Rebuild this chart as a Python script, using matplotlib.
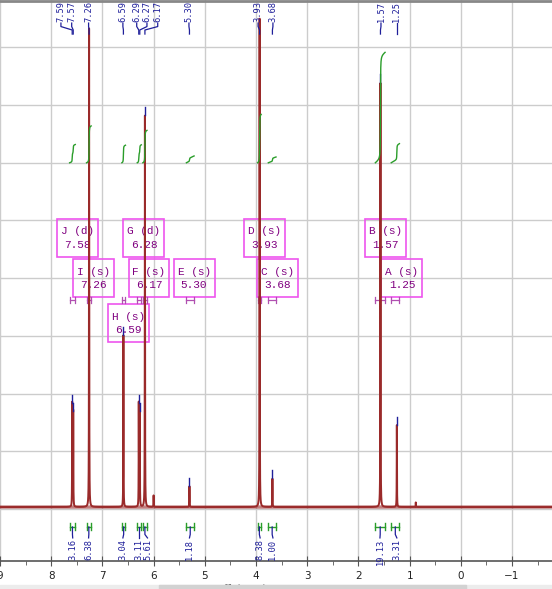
import numpy as np
import matplotlib
matplotlib.use("Agg")
import matplotlib.pyplot as plt
from matplotlib.patches import Rectangle
from matplotlib.lines import Line2D

# peaks (ppm, height in grid units)
peak_ppm = [7.59, 7.57, 7.26, 6.59, 6.29, 6.27, 6.17, 6.00, 5.30, 3.93, 3.68, 1.57, 1.25, 0.88]
peak_height = [1.80, 1.66, 8.30, 2.98, 1.80, 1.66, 6.78, 0.20, 0.36, 8.47, 0.49, 7.35, 1.42, 0.08]

# picked peak labels along the top
label_ppm = [7.59, 7.57, 7.26, 6.59, 6.29, 6.27, 6.17, 5.30, 3.93, 3.68, 1.57, 1.25]
label_height = [1.80, 1.66, 8.30, 2.98, 1.80, 1.66, 6.78, 0.36, 8.47, 0.49, 7.35, 1.42]

# multiplets
mult_letter = ['J', 'I', 'H', 'G', 'F', 'E', 'D', 'C', 'B', 'A']
mult_type = ['d', 's', 's', 'd', 's', 's', 's', 's', 's', 's']
mult_shift = [7.58, 7.26, 6.59, 6.28, 6.17, 5.30, 3.93, 3.68, 1.57, 1.25]
mult_start = [7.64, 7.31, 6.62, 6.32, 6.21, 5.36, 3.97, 3.76, 1.67, 1.36]
mult_end = [7.53, 7.22, 6.55, 6.24, 6.13, 5.21, 3.90, 3.61, 1.48, 1.20]
integral = [3.16, 6.38, 3.04, 3.11, 5.61, 1.18, 8.38, 1.00, 19.13, 3.31]

# layout (ppm / grid units)
XMAX, XMIN = 9.0, -1.78
YMIN, YMAX = -0.90, 8.82
label_x = [7.81, 7.60, 7.27, 6.60, 6.33, 6.13, 5.92, 5.31, 3.96, 3.67, 1.56, 1.25]
box_x = [7.49, 7.18, 6.49, 6.19, 6.09, 5.21, 3.84, 3.58, 1.48, 1.15]
box_row = [0, 1, 2, 0, 1, 1, 0, 1, 0, 1]
row_y = [4.70, 4.00, 3.22]
int_label_x = [7.58, 7.27, 6.60, 6.28, 6.12, 5.30, 3.92, 3.67, 1.58, 1.25]

RED = '#9a2a2a'
NAVY = '#1f1f9a'
GREEN = '#2a9d2a'
MAG = '#ee55ee'
PURP = '#800080'

ppm = np.linspace(XMAX, XMIN, 60000)
hw = 0.0025
spec = np.zeros_like(ppm)
for p, h in zip(peak_ppm, peak_height):
    spec += h * hw**2 / ((ppm - p)**2 + hw**2)

fig = plt.figure(figsize=(5.52, 5.89), dpi=100)
ax = fig.add_axes([0, 28 / 589, 1, 561 / 589])
ax.set_xlim(XMAX, XMIN)
ax.set_ylim(YMIN, YMAX)

for v in range(-1, 10):
    ax.axvline(v, color='#cccccc', lw=1, zorder=0)
for v in range(0, 9):
    ax.axhline(v, color='#cccccc', lw=1, zorder=0)

ax.plot(ppm, spec + 0.035, color=RED, lw=1.4, zorder=3)
ax.plot(ppm, np.full_like(ppm, 0.035), color=RED, lw=2.4, alpha=0.6, zorder=2)

# peak markers and top labels
for lp, lh, lx in zip(label_ppm, label_height, label_x):
    if lh < 8:
        ax.plot([lp, lp], [lh + 0.04, lh + 0.18], color=NAVY, lw=1, zorder=4)
    ax.plot([lx, lx, lp, lp], [8.42, 8.36, 8.30, 8.23], color=NAVY, lw=0.9, zorder=4)
    ax.text(lx, 8.80, f"{lp:.2f}", rotation=90, ha='center', va='top',
            family='DejaVu Sans Mono', fontsize=6.3, color=NAVY, zorder=5)

# multiplet boxes and ranges
for i in range(len(mult_letter)):
    cx, cy = box_x[i], row_y[box_row[i]]
    ax.add_patch(Rectangle((cx - 0.40, cy - 0.33), 0.80, 0.66, fill=False,
                           ec=MAG, lw=1.2, zorder=1))
    ax.text(cx, cy + 0.11, f"{mult_letter[i]} ({mult_type[i]})", ha='center', va='center',
            family='Liberation Mono', fontsize=8, color=PURP, zorder=1)
    ax.text(cx, cy - 0.12, f"{mult_shift[i]:.2f}", ha='center', va='center',
            family='Liberation Mono', fontsize=8, color=PURP, zorder=1)
    a, b = mult_start[i], mult_end[i]
    ax.plot([a, b], [3.62, 3.62], color='#b050b0', lw=0.9, zorder=2)
    ax.plot([a, a], [3.57, 3.67], color='#b050b0', lw=0.9, zorder=2)
    ax.plot([b, b], [3.57, 3.67], color='#b050b0', lw=0.9, zorder=2)

# integral curves and labels
for i in range(len(integral)):
    a, b = mult_start[i], mult_end[i]
    m = (ppm <= a) & (ppm >= b)
    c = np.cumsum(spec[m] + 0.02)
    c = (c - c[0]) / (c[-1] - c[0])
    ax.plot(ppm[m], 6.0 + c * integral[i] * 0.1, color=GREEN, lw=1, zorder=4)
    ax.plot([a, b], [-0.31, -0.31], color=GREEN, lw=1, zorder=4)
    ax.plot([a, a], [-0.25, -0.37], color=GREEN, lw=1, zorder=4)
    ax.plot([b, b], [-0.25, -0.37], color=GREEN, lw=1, zorder=4)
    mid = (a + b) / 2
    lx = int_label_x[i]
    ax.plot([mid, mid, lx], [-0.31, -0.44, -0.50], color=NAVY, lw=0.9, zorder=4)
    ax.text(lx, -0.52, f"{integral[i]:.2f}", rotation=90, ha='center', va='top',
            family='DejaVu Sans Mono', fontsize=6.3, color=NAVY, zorder=5)

for s in ['left', 'right', 'top']:
    ax.spines[s].set_visible(False)
ax.spines['bottom'].set_color('#555555')
ax.spines['bottom'].set_linewidth(1.2)
ax.set_yticks([])
ax.set_xticks(range(-1, 10))
ax.set_xticklabels([str(v) if v >= 0 else '\u22121' for v in range(-1, 10)])
ax.set_xticks(np.arange(-1.5, 9.5, 0.5), minor=True)
ax.tick_params(axis='x', which='major', direction='inout', length=7, color='#555555',
               labelsize=7.5, pad=4, labelcolor='#222222')
ax.tick_params(axis='x', which='minor', direction='out', length=3, color='#555555')

fig.text(245 / 552, 5 / 589, 'f1 (ppm)', fontsize=7, ha='center', va='top', color='#444444')

# window chrome
fig.add_artist(Line2D([0, 1], [1 - 1 / 589, 1 - 1 / 589], transform=fig.transFigure,
                      color='#888888', lw=2))
fig.add_artist(Rectangle((0, 0), 1, 4 / 589, transform=fig.transFigure,
                         color='#ececec', zorder=10))
fig.add_artist(Rectangle((159 / 552, 0), 307 / 552, 4 / 589, transform=fig.transFigure,
                         color='#d2d2d2', zorder=11))

fig.savefig('out.png', dpi=100)
